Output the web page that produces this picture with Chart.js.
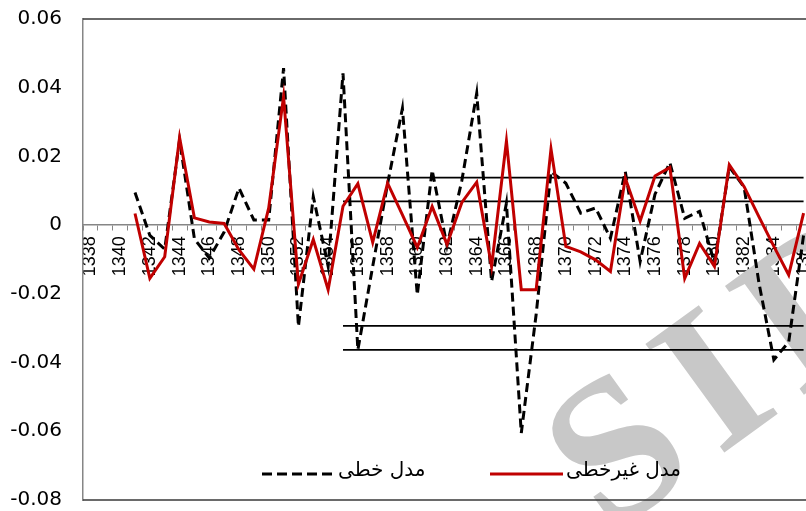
<!DOCTYPE html>
<html>
<head>
<meta charset="utf-8">
<script src="https://cdn.jsdelivr.net/npm/chart.js@4.4.1/dist/chart.umd.min.js"></script>
<style>
    html, body { margin: 0; padding: 0; background: #fff; overflow: hidden; }
    #wrap { width: 830px; height: 511px; }
</style>
</head>
<body>
<div id="wrap"><canvas id="chart" width="830" height="511"></canvas></div>
<script>
// Years on the x axis (the picture is cut off on the right after 1386)
const years = [
    "1338", "1339", "1340", "1341", "1342", "1343", "1344", "1345", "1346", "1347",
    "1348", "1349", "1350", "1351", "1352", "1353", "1354", "1355", "1356", "1357",
    "1358", "1359", "1360", "1361", "1362", "1363", "1364", "1365", "1366", "1367",
    "1368", "1369", "1370", "1371", "1372", "1373", "1374", "1375", "1376", "1377",
    "1378", "1379", "1380", "1381", "1382", "1383", "1384", "1385", "1386"
];

// مدل خطی (dashed black)
const linearModel = [
    null, null, null, 0.0095, -0.003, -0.007, 0.0248, -0.004, -0.0096, -0.002,
    0.0108, 0.0015, 0.0015, 0.0457, -0.0295, 0.0083, -0.012, 0.0442, -0.0363, -0.012,
    0.012, 0.034, -0.0203, 0.016, -0.006, 0.013, 0.0384, -0.0164, 0.0064, -0.0605,
    -0.026, 0.0156, 0.0122, 0.0035, 0.005, -0.0038, 0.0156, -0.0106, 0.009, 0.0182,
    0.002, 0.004, -0.011, 0.017, 0.011, -0.0169, -0.0392, -0.034, -0.003
];

// مدل غیرخطی (solid red)
const nonlinearModel = [
    null, null, null, 0.0034, -0.0155, -0.0092, 0.0255, 0.0021, 0.0009, 0.0005,
    -0.0072, -0.0128, 0.005, 0.0374, -0.0172, -0.0042, -0.0188, 0.0055, 0.0121, -0.005,
    0.0122, 0.003, -0.0065, 0.0054, -0.0056, 0.0066, 0.0125, -0.012, 0.0245, -0.0188,
    -0.0188, 0.0222, -0.0062, -0.0078, -0.0101, -0.0135, 0.0137, 0.0012, 0.0143, 0.0168,
    -0.0155, -0.0053, -0.012, 0.0176, 0.0112, 0.0024, -0.0062, -0.0145, 0.0035
];

// Horizontal reference lines drawn from 1355 to the end
const bandLevels = [0.0138, 0.0069, -0.0293, -0.0363];
const bandFrom = "1355";
const bandTo = "1386";

const yTicks = [-0.08, -0.06, -0.04, -0.02, 0, 0.02, 0.04, 0.06];

const legendItems = [
    { text: "مدل خطی", color: "#000000", dash: [10, 5], x: 262 },
    { text: "مدل غیرخطی", color: "#c00000", dash: [], x: 490 }
];

// Frame (top/bottom lines), the watermark and the legend inside the plot
const decorPlugin = {
    id: "decor",
    beforeDatasetsDraw(chart) {
        const ctx = chart.ctx;
        const letters = ["S", "I", "D"];
        const gap = 22;
        ctx.save();
        ctx.fillStyle = "#c8c8c8";
        ctx.font = "bold 205px 'Liberation Serif'";
        ctx.textBaseline = "alphabetic";
        ctx.textAlign = "left";
        ctx.translate(711, 378);
        ctx.rotate(-36 * Math.PI / 180);
        const w = letters.map(l => ctx.measureText(l).width);
        let x = -(w[0] + gap + w[1] / 2);
        letters.forEach((l, i) => {
            ctx.fillText(l, x, 68);
            x += w[i] + gap;
        });
        ctx.restore();
    },
    afterDraw(chart) {
        const ctx = chart.ctx;
        const area = chart.chartArea;
        ctx.save();
        ctx.strokeStyle = "#3a3a3a";
        ctx.lineWidth = 1.5;
        ctx.beginPath();
        ctx.moveTo(area.left, area.top);
        ctx.lineTo(area.right, area.top);
        ctx.moveTo(area.left, area.bottom);
        ctx.lineTo(area.right, area.bottom);
        ctx.stroke();

        // legend
        const y = 474;
        ctx.font = "20px 'DejaVu Sans'";
        ctx.textBaseline = "middle";
        ctx.textAlign = "left";
        legendItems.forEach(item => {
            ctx.strokeStyle = item.color;
            ctx.lineWidth = 3;
            ctx.setLineDash(item.dash);
            ctx.beginPath();
            ctx.moveTo(item.x, y);
            ctx.lineTo(item.x + 73, y);
            ctx.stroke();
            ctx.setLineDash([]);
            ctx.fillStyle = "#000";
            ctx.fillText(item.text, item.x + 76, y - 3);
        });
        ctx.restore();
    }
};

const bandDatasets = bandLevels.map(level => ({
    label: "band",
    data: [{ x: bandFrom, y: level }, { x: bandTo, y: level }],
    borderColor: "#000",
    borderWidth: 1.75,
    pointRadius: 0,
    fill: false
}));

const config = {
    type: "line",
    data: {
        labels: years,
        datasets: [
            {
                label: "مدل غیرخطی",
                data: nonlinearModel,
                borderColor: "#c00000",
                borderWidth: 3,
                pointRadius: 0,
                tension: 0
            },
            {
                label: "مدل خطی",
                data: linearModel,
                borderColor: "#000",
                borderWidth: 3,
                borderDash: [9, 5],
                pointRadius: 0,
                tension: 0
            },
            ...bandDatasets
        ]
    },
    options: {
        responsive: false,
        animation: false,
        layout: { padding: { left: 0, top: 19, right: 19, bottom: 11 } },
        plugins: {
            legend: { display: false },
            tooltip: { enabled: false }
        },
        scales: {
            x: {
                type: "category",
                position: { y: 0 },
                offset: true,
                afterFit: scale => {
                    scale.paddingLeft = 0;
                    scale.paddingRight = 0;
                },
                grid: {
                    offset: true,
                    drawOnChartArea: false,
                    drawTicks: true,
                    tickLength: 5,
                    color: "#868686"
                },
                border: { color: "#868686", width: 1.5 },
                ticks: {
                    autoSkip: false,
                    minRotation: 90,
                    maxRotation: 90,
                    padding: 6,
                    color: "#000",
                    font: { family: "'Liberation Sans', Arial", size: 18 },
                    callback: function (value, index) {
                        const year = years[index];
                        return Number(year) % 2 === 0 ? year : "";
                    }
                }
            },
            y: {
                min: -0.08,
                max: 0.06,
                afterBuildTicks: scale => {
                    scale.ticks = yTicks.map(v => ({ value: v }));
                },
                afterFit: scale => {
                    scale.width = 83;
                    scale.paddingTop = 0;
                    scale.paddingBottom = 0;
                },
                grid: { display: false, drawTicks: false },
                border: { color: "#868686", width: 1.5 },
                ticks: {
                    padding: 21,
                    color: "#000",
                    font: { family: "'DejaVu Sans'", size: 20 },
                    callback: v => String(Number(v.toFixed(2)))
                }
            }
        }
    },
    plugins: [decorPlugin]
};

new Chart(document.getElementById("chart").getContext("2d"), config);
</script>
</body>
</html>
